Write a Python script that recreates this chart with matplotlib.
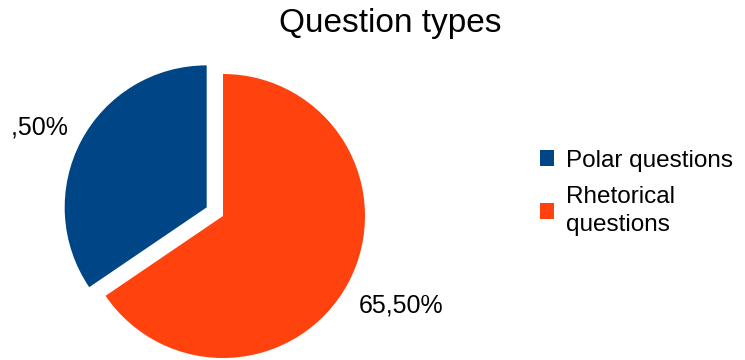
import matplotlib.pyplot as plt
from matplotlib.transforms import Bbox

plt.rcParams['font.family'] = ['Liberation Sans', 'DejaVu Sans']

categories = ['Polar questions', 'Rhetorical\nquestions']
values = [34.5, 65.5]
colors = ['#004586', '#ff420e']
explode = [0.13, 0.0]

W, H = 745, 360
fig = plt.figure(figsize=(W / 100, H / 100), dpi=100)

# pie centre (223, 216) px from top-left, radius 142 px
R = 142
cx, cy = 223, H - 216
lim = 1.5
ax = fig.add_axes([(cx - lim * R) / W, (cy - lim * R) / H, 2 * lim * R / W, 2 * lim * R / H])

wedges, texts, autotexts = ax.pie(
    values, colors=colors, explode=explode, startangle=90, counterclock=True,
    autopct=lambda p: ('%.2f%%' % p).replace('.', ','), pctdistance=1.39,
    textprops={'fontsize': 18, 'color': 'black'},
)
for t in autotexts:
    t.set_clip_on(False)
# the polar label is cut at the left, as in the original
autotexts[0].set_position(((25 - 223) / R, (216 - 128) / R))
autotexts[0].set_clip_on(True)
autotexts[0].set_clip_box(Bbox.from_extents(11, 0, W, H))
autotexts[1].set_position(((401 - 223) / R, (216 - 305) / R))
ax.set_xlim(-lim, lim)
ax.set_ylim(-lim, lim)
ax.axis('off')

fig.suptitle('Question types', x=390 / W, y=1 - 8 / H, va='top', fontsize=24)

leg = fig.legend(wedges, categories, loc='upper left', bbox_to_anchor=(530 / W, 1 - 140 / H),
                 frameon=False, fontsize=17.5, handlelength=0.6, handleheight=0.6,
                 handletextpad=0.5, labelspacing=0.6, borderaxespad=0)
for t in leg.get_texts():
    t.set_linespacing(1.35)

fig.savefig('out.png', dpi=100)
